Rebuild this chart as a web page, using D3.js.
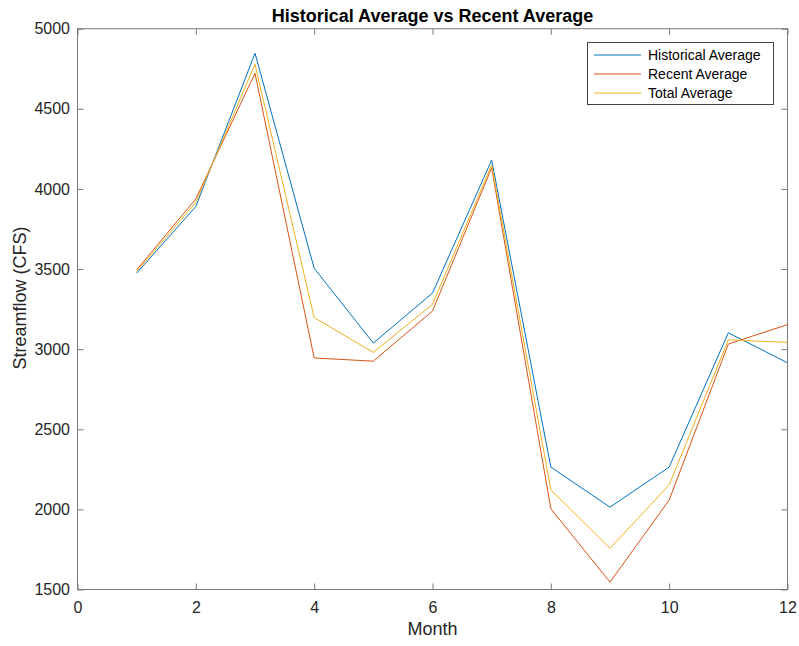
<!DOCTYPE html>
<html>
<head>
<meta charset="utf-8">
<script src="https://cdn.jsdelivr.net/npm/d3@7"></script>
<style>
  html, body { margin: 0; padding: 0; background: #fff; }
  svg { display: block; font-family: "Liberation Sans", Arial, Helvetica, sans-serif; }
</style>
</head>
<body>
<svg id="chart" width="799" height="646"></svg>
<script>
// Monthly streamflow averages (CFS)
const months = [1, 2, 3, 4, 5, 6, 7, 8, 9, 10, 11, 12];
const historicalAvg = [3475, 3890, 4847, 3505, 3038, 3350, 4180, 2264, 2014, 2264, 3102, 2915];
const recentAvg     = [3495, 3938, 4722, 2945, 2925, 3238, 4132, 2004, 1546, 2058, 3032, 3153];
const totalAvg      = [3485, 3915, 4778, 3197, 2980, 3280, 4150, 2122, 1757, 2153, 3058, 3042];

const seriesNames  = ["Historical Average", "Recent Average", "Total Average"];
const seriesValues = [historicalAvg, recentAvg, totalAvg];
const seriesColors = ["#0072BD", "#D95319", "#EDB120"];

const xTicks = [0, 2, 4, 6, 8, 10, 12];
const yTicks = [1500, 2000, 2500, 3000, 3500, 4000, 4500, 5000];

const svg = d3.select("#chart");
const plotLeft = 77.5, plotRight = 787.5, plotTop = 28.7, plotBottom = 589.5;

const x = d3.scaleLinear().domain([0, 12]).range([plotLeft, plotRight]);
const y = d3.scaleLinear().domain([1500, 5000]).range([plotBottom, plotTop]);

const axisColor = "#7a7a7a";
const textColor = "#262626";
const tickLen = 6;

// Axes box (ticks pointing inward on all four sides)
const g = svg.append("g");

function styleAxis(sel) {
  sel.select(".domain").remove();
  sel.selectAll(".tick line").attr("stroke", axisColor).attr("stroke-width", 1);
  sel.selectAll(".tick text").attr("fill", textColor).attr("font-size", 16);
}

g.append("g")
  .attr("transform", `translate(0,${plotBottom})`)
  .call(d3.axisBottom(x).tickValues(xTicks).tickSizeInner(-tickLen).tickPadding(12).tickFormat(d3.format("d")))
  .call(styleAxis);

g.append("g")
  .attr("transform", `translate(0,${plotTop})`)
  .call(d3.axisTop(x).tickValues(xTicks).tickSizeInner(-tickLen).tickFormat(""))
  .call(styleAxis);

g.append("g")
  .attr("transform", `translate(${plotLeft},0)`)
  .call(d3.axisLeft(y).tickValues(yTicks).tickSizeInner(-tickLen).tickPadding(7.5).tickFormat(d3.format("d")))
  .call(styleAxis);

g.append("g")
  .attr("transform", `translate(${plotRight},0)`)
  .call(d3.axisRight(y).tickValues(yTicks).tickSizeInner(-tickLen).tickFormat(""))
  .call(styleAxis);

g.append("rect")
  .attr("x", plotLeft).attr("y", plotTop)
  .attr("width", plotRight - plotLeft).attr("height", plotBottom - plotTop)
  .attr("fill", "none").attr("stroke", axisColor).attr("stroke-width", 1);

// Series lines
const line = d3.line().x((d, i) => x(months[i])).y(d => y(d));
seriesValues.forEach((vals, k) => {
  svg.append("path")
    .datum(vals)
    .attr("d", line)
    .attr("fill", "none")
    .attr("stroke", seriesColors[k])
    .attr("stroke-width", 1);
});

// Title and axis labels
svg.append("text")
  .attr("x", (plotLeft + plotRight) / 2).attr("y", 22)
  .attr("text-anchor", "middle")
  .attr("font-size", 18).attr("font-weight", "bold").attr("fill", "#000")
  .text("Historical Average vs Recent Average");

svg.append("text")
  .attr("x", (plotLeft + plotRight) / 2).attr("y", 635)
  .attr("text-anchor", "middle")
  .attr("font-size", 18).attr("fill", textColor)
  .text("Month");

svg.append("text")
  .attr("transform", `translate(26,298) rotate(-90)`)
  .attr("text-anchor", "middle")
  .attr("font-size", 18).attr("fill", textColor)
  .text("Streamflow (CFS)");

// Legend
const lg = svg.append("g");
lg.append("rect")
  .attr("x", 587.5).attr("y", 42.5).attr("width", 186).attr("height", 62)
  .attr("fill", "#fff").attr("stroke", "#444").attr("stroke-width", 1);
seriesNames.forEach((name, k) => {
  const cy = 55 + k * 19;
  lg.append("line")
    .attr("x1", 594).attr("x2", 641).attr("y1", cy).attr("y2", cy)
    .attr("stroke", seriesColors[k]).attr("stroke-width", 1);
  lg.append("text")
    .attr("x", 648).attr("y", cy).attr("dy", "0.35em")
    .attr("font-size", 14).attr("fill", "#000")
    .text(name);
});
</script>
</body>
</html>
